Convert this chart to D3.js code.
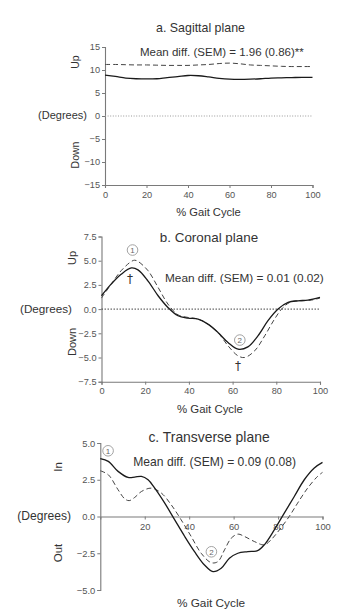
<!DOCTYPE html>
<html>
<head>
<meta charset="utf-8">
<script src="https://cdn.jsdelivr.net/npm/d3@7"></script>
<style>
  html, body { margin: 0; padding: 0; background: #fff; }
  svg { display: block; font-family: "Liberation Sans", Arial, sans-serif; }
</style>
</head>
<body>
<svg id="chart" width="353" height="614"></svg>
<script>
// ---------- DATA ----------
// a. Sagittal plane
const sagittalPct    = [0,5,10,15,20,25,30,35,40,45,50,55,60,65,70,75,80,85,90,95,100];
const sagittalSolid  = [8.9,8.6,8.25,8.1,8.05,8.1,8.35,8.55,8.8,8.75,8.5,8.2,8.0,7.95,8.0,8.1,8.25,8.3,8.35,8.4,8.4];
const sagittalDashed = [11.2,11.2,11.15,11.1,11.1,11.05,11.0,11.0,11.0,11.1,11.2,11.4,11.5,11.35,11.1,11.0,10.9,10.8,10.75,10.75,10.75];
const sagittalTicks  = [15,10,5,0,-5,-10,-15];

// b. Coronal plane
const coronalSolidPct  = [0,4.5,9,13.7,16.7,21.3,25.9,30.4,35,39.6,44.2,48.7,53.3,57.9,62.5,67,71.6,76.2,80.8,85.4,89.9,94.5,100];
const coronalSolid     = [1.38,2.6,3.6,4.25,4.05,2.9,1.38,0.17,-0.69,-0.93,-1.03,-1.55,-2.41,-3.45,-4.14,-3.9,-2.76,-1.2,0,0.69,0.86,0.93,1.2];
const coronalDashedPct = [0,4.5,9,13.7,15.2,16.7,21.3,25.9,30.4,35,39.6,44.2,48.7,53.3,57.9,62.5,65.5,70.1,74.7,79.2,83.1,86.9,91.5,96.1,100];
const coronalDashed    = [1.14,2.6,3.97,4.93,5.05,4.93,3.97,2.24,0.52,-0.59,-0.86,-1.03,-1.55,-2.41,-3.79,-4.83,-5.0,-4.31,-2.76,-1.03,0.17,0.76,0.86,0.93,1.14];
const coronalTicks     = [7.5,5.0,2.5,0.0,-2.5,-5.0,-7.5];

// c. Transverse plane
const transSolidPct  = [0,3.6,8,12.5,15.5,18.5,21.5,24.5,29,33.5,38,42.4,46.9,50.7,54.4,58.1,61.9,66.4,70.8,73.8,78.3,82.8,87.3,91.8,96.3,100];
const transSolid     = [3.93,3.75,3.07,2.66,2.68,2.73,2.5,1.93,0.91,-0.23,-1.36,-2.39,-3.3,-3.75,-3.52,-2.84,-2.5,-2.39,-2.32,-1.93,-0.91,0.23,1.36,2.5,3.3,3.68];
const transDashedPct = [0,3.6,8,11,13,15.5,18.5,23,27.5,31.9,36.4,40.9,45.4,49.9,52.9,55.9,58.9,61.9,64.9,69.3,73.8,76.8,80.6,85,88.8,93.3,97.8,100];
const transDashed    = [3.11,2.84,1.82,1.2,1.08,1.3,1.7,1.93,1.59,0.8,-0.23,-1.36,-2.5,-3.14,-3.07,-2.27,-1.48,-1.2,-1.36,-1.7,-1.93,-1.59,-0.91,0,0.91,1.93,2.73,3.0];
const transTicks     = [5.0,2.5,0.0,-2.5,-5.0];

const xTicksAll = [0,20,40,60,80,100];
const xTicksTrans = [20,40,60,80,100];

const titles = ["a. Sagittal plane", "b. Coronal plane", "c. Transverse plane"];
const meanDiffs = ["Mean diff. (SEM) = 1.96 (0.86)**", "Mean diff. (SEM) = 0.01 (0.02)", "Mean diff. (SEM) = 0.09 (0.08)"];
const upLabels = ["Up", "Up", "In"];
const downLabels = ["Down", "Down", "Out"];

// ---------- DRAW ----------
const svg = d3.select("#chart");
const axisColor = "#7a7a7a";
const textColor = "#333";
const tickColor = "#555";

function drawPanel(p) {
  const x = d3.scaleLinear().domain([0, 100]).range(p.xr);
  const y = d3.scaleLinear().domain(p.yd).range(p.yr);
  const g = svg.append("g");

  const yAxis = g.append("g").attr("transform", `translate(${p.xr[0]},0)`)
    .call(d3.axisLeft(y).tickValues(p.yTicks).tickSize(3).tickPadding(2)
      .tickFormat(p.yFmt));
  const xAxis = g.append("g").attr("transform", `translate(0,${y(p.xAxisAt)})`)
    .call(d3.axisBottom(x).tickValues(p.xTicks).tickSize(3).tickPadding(p.xPad)
      .tickFormat(d3.format("d")));
  [yAxis, xAxis].forEach(a => {
    a.select(".domain").attr("stroke", axisColor).attr("stroke-width", 1.1);
    a.selectAll(".tick line").attr("stroke", axisColor).attr("stroke-width", 1);
    a.selectAll(".tick text").attr("fill", tickColor).style("font-size", p.tickFs + "px")
      .style("font-family", '"Liberation Sans", Arial, sans-serif');
  });

  if (p.zeroLine) {
    g.append("line")
      .attr("x1", x(0)).attr("x2", x(100))
      .attr("y1", y(0)).attr("y2", y(0))
      .attr("stroke", p.zeroLine.color).attr("stroke-width", 1)
      .attr("stroke-dasharray", p.zeroLine.dash);
  }

  const line = d3.line().x(d => x(d[0])).y(d => y(d[1])).curve(d3.curveCatmullRom.alpha(0.5));

  g.append("path").datum(d3.zip(p.dashedPct, p.dashed))
    .attr("d", line).attr("fill", "none").attr("stroke", "#444")
    .attr("stroke-width", 1).attr("stroke-dasharray", p.dashArr);
  g.append("path").datum(d3.zip(p.solidPct, p.solid))
    .attr("d", line).attr("fill", "none").attr("stroke", "#1a1a1a")
    .attr("stroke-width", 1.3);

  g.append("text").attr("x", p.titlePos[0]).attr("y", p.titlePos[1])
    .attr("text-anchor", "middle").attr("dominant-baseline", "central")
    .attr("fill", textColor).style("font-size", p.titleFs + "px").text(p.title);
  g.append("text").attr("x", p.meanPos[0]).attr("y", p.meanPos[1])
    .attr("dominant-baseline", "central")
    .attr("fill", textColor).style("font-size", p.meanFs + "px").text(p.mean);
  g.append("text").attr("x", p.xLabPos[0]).attr("y", p.xLabPos[1])
    .attr("text-anchor", "middle").attr("dominant-baseline", "central")
    .attr("fill", textColor).style("font-size", p.xLabFs + "px").text("% Gait Cycle");
  g.append("text").attr("x", p.degPos[0]).attr("y", p.degPos[1])
    .attr("text-anchor", "end").attr("dominant-baseline", "central")
    .attr("fill", textColor).style("font-size", p.degFs + "px").text("(Degrees)");
  [[p.up, p.upPos], [p.down, p.downPos]].forEach(([t, pos]) => {
    g.append("text").attr("transform", `translate(${pos[0]},${pos[1]}) rotate(-90)`)
      .attr("text-anchor", "middle").attr("dominant-baseline", "central")
      .attr("fill", textColor).style("font-size", p.sideFs + "px").text(t);
  });
  (p.circles || []).forEach(c => {
    g.append("circle").attr("cx", x(c.pct)).attr("cy", y(c.v)).attr("r", 5.3)
      .attr("fill", "#fff").attr("stroke", "#999").attr("stroke-width", 0.9);
    g.append("text").attr("x", x(c.pct)).attr("y", y(c.v) + 0.5)
      .attr("text-anchor", "middle").attr("dominant-baseline", "central")
      .attr("fill", "#666").style("font-size", "8px").text(c.label);
  });
  (p.daggers || []).forEach(c => {
    g.append("text").attr("x", x(c.pct)).attr("y", y(c.v))
      .attr("text-anchor", "middle").attr("dominant-baseline", "central")
      .attr("fill", "#333").style("font-size", "12px")
      .style("font-family", '"DejaVu Sans", sans-serif').text("\u2020");
  });
}

drawPanel({
  xr: [105, 312.5], yd: [-15, 15], yr: [185, 47], yTicks: sagittalTicks,
  yFmt: d3.format("d"), xTicks: xTicksAll, xAxisAt: -15, xPad: 3, tickFs: 9.2,
  zeroLine: { color: "#999", dash: "1,1.6" },
  solidPct: sagittalPct, solid: sagittalSolid, dashedPct: sagittalPct, dashed: sagittalDashed,
  dashArr: "5,3",
  title: titles[0], titlePos: [200.5, 28], titleFs: 12.4,
  mean: meanDiffs[0], meanPos: [140, 52], meanFs: 11.5,
  xLabPos: [208.5, 212], xLabFs: 11.2,
  degPos: [87, 115], degFs: 11,
  up: upLabels[0], upPos: [75, 62], down: downLabels[0], downPos: [75, 155], sideFs: 10.5
});

drawPanel({
  xr: [101.5, 320], yd: [-7.5, 7.5], yr: [381.7, 236.5], yTicks: coronalTicks,
  yFmt: d3.format(".1f"), xTicks: xTicksAll, xAxisAt: -7.5, xPad: 3, tickFs: 9.2,
  zeroLine: { color: "#444", dash: "1.5,1.5" },
  solidPct: coronalSolidPct, solid: coronalSolid, dashedPct: coronalDashedPct, dashed: coronalDashed,
  dashArr: "5,3",
  title: titles[1], titlePos: [209, 237], titleFs: 13.4,
  mean: meanDiffs[1], meanPos: [165, 278], meanFs: 11.8,
  xLabPos: [210, 409], xLabFs: 11.4,
  degPos: [72, 308], degFs: 11.7,
  up: upLabels[1], upPos: [72, 258], down: downLabels[1], downPos: [72, 342], sideFs: 11,
  circles: [{ pct: 14.2, v: 6.1, label: "1" }, { pct: 63.3, v: -3.2, label: "2" }],
  daggers: [{ pct: 13, v: 3.15 }, { pct: 62.5, v: -5.9 }]
});

drawPanel({
  xr: [100.3, 322.5], yd: [-5, 5], yr: [590, 443], yTicks: transTicks,
  yFmt: d3.format(".1f"), xTicks: xTicksTrans, xAxisAt: 0, xPad: 4, tickFs: 9.4,
  zeroLine: null,
  solidPct: transSolidPct, solid: transSolid, dashedPct: transDashedPct, dashed: transDashed,
  dashArr: "5,3",
  title: titles[2], titlePos: [209, 437], titleFs: 13.9,
  mean: meanDiffs[2], meanPos: [133.3, 461.7], meanFs: 12.1,
  xLabPos: [211, 603], xLabFs: 11.8,
  degPos: [71, 516], degFs: 12.1,
  up: upLabels[2], upPos: [58, 467], down: downLabels[2], downPos: [58, 553], sideFs: 11.5,
  circles: [{ pct: 3.5, v: 4.47, label: "1" }, { pct: 50, v: -2.4, label: "2" }]
});
</script>
</body>
</html>
